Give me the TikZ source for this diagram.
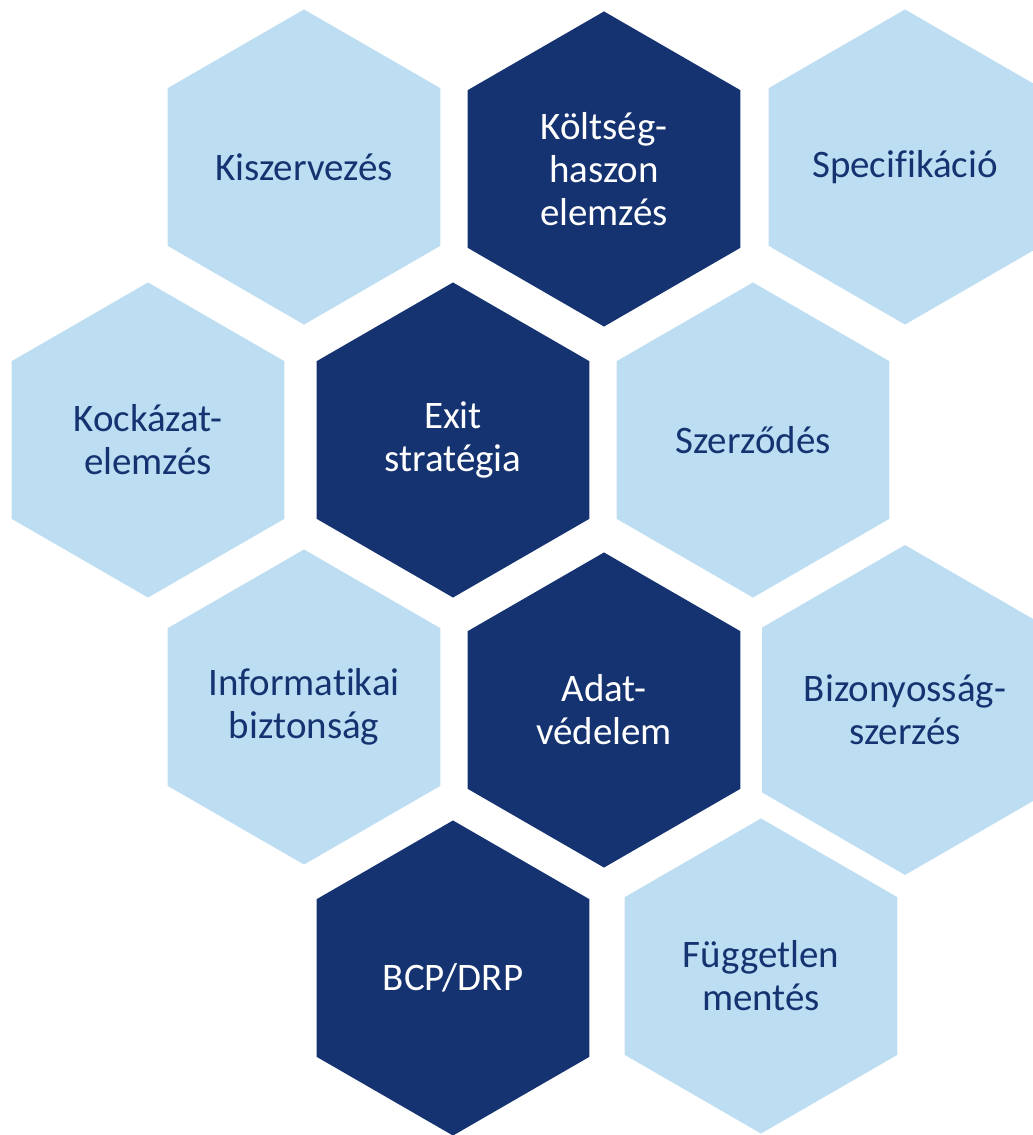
\documentclass[tikz,border=0pt]{standalone}
\usepackage{fontspec}
\setmainfont[RawFeature={-liga;-clig;-dlig;-calt}]{Carlito}
\usepackage{xcolor}
\usetikzlibrary{shapes.geometric}

\definecolor{hexdark}{RGB}{21,51,112}
\definecolor{hexlight}{RGB}{189,221,242}

\begin{document}
\begin{tikzpicture}[x=0.025cm, y=-0.025cm,
    hexcell/.style={regular polygon, regular polygon sides=6, shape border rotate=30,
        minimum size=7.875cm, inner sep=0pt, align=center,
        font=\fontsize{27.7}{30.6}\selectfont},
    darkcell/.style={hexcell, fill=hexdark, text=white},
    lightcell/.style={hexcell, fill=hexlight, text=hexdark}]
                \useasboundingbox (0,0) rectangle (1032,1135);

                % row 1
                \node[lightcell] (kiszervezes) at (304,167) {Kiszervezés};
                \node[darkcell] (koltseg) at (604,169) {Költség-\\haszon\\elemzés};
                \node[lightcell] (specifikacio) at (905,167) {Specifikáció};

                % row 2
                \node[lightcell] (kockazat) at (148,440) {Kockázat-\\elemzés};
                \node[darkcell] (exit) at (453,440) {Exit\\stratégia};
                \node[lightcell] (szerzodes) at (753,440) {Szerződés};

                % row 3
                \node[lightcell] (informatikai) at (304,707) {Informatikai\\biztonság};
                \node[darkcell] (adatvedelem) at (604,710) {Adat-\\védelem};
                \node[lightcell] (bizonyossag) at (905,710) {Bizonyosság-\\szerzés};

                % row 4
                \node[darkcell] (bcp) at (453,978) {BCP/DRP};
                \node[lightcell] (fuggetlen) at (761,976) {Független\\mentés};
            \end{tikzpicture}
\end{document}
